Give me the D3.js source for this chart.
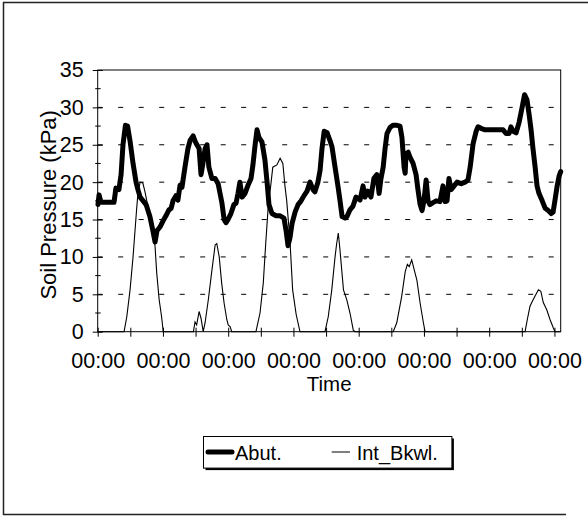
<!DOCTYPE html>
<html><head><meta charset="utf-8">
<script src="https://cdn.jsdelivr.net/npm/d3@7"></script>
<style>body{margin:0;background:#fff}svg{display:block}text{font-family:"Liberation Sans",Arial,sans-serif;fill:#000}</style>
</head><body>
<script>
// Time in hours from start; values in kPa
const abutHours = [0.1,0.5,1.2,6.0,6.7,7.8,8.6,9.3,10.2,11.0,11.9,13.0,14.1,14.8,15.6,16.7,17.8,19.2,20.3,21.1,21.8,22.9,24.0,25.1,26.2,27.0,27.7,28.8,29.5,30.3,31.0,32.1,33.2,34.0,35.1,35.8,36.5,37.3,38.0,38.7,39.5,40.2,40.9,42.0,43.2,44.3,45.0,45.7,46.5,47.2,47.9,49.0,50.1,50.9,51.6,52.3,53.1,54.2,55.3,56.4,57.1,57.9,58.6,59.3,60.4,61.5,62.3,63.0,64.1,65.6,67.1,68.5,69.3,70.0,70.7,71.5,72.6,73.7,74.8,75.9,77.0,78.1,79.2,79.9,81.0,81.8,82.5,83.3,84.4,85.5,86.2,87.3,88.4,89.1,89.9,91.0,91.7,92.8,93.9,95.0,96.5,97.6,98.3,99.4,100.5,101.6,102.7,103.5,104.2,105.0,105.7,106.4,107.5,108.6,110.1,111.2,111.9,112.7,113.1,113.4,114.2,114.9,116.0,117.1,117.8,118.6,119.3,120.0,120.8,121.5,122.2,123.0,124.5,125.9,127.0,127.8,128.5,129.2,130.0,131.1,132.2,133.7,135.1,136.2,137.0,138.1,139.2,139.9,141.0,142.5,144.3,146.5,149.1,150.2,151.3,152.0,152.8,153.9,155.0,156.1,157.0,157.9,158.7,159.4,160.1,160.9,161.6,162.3,163.5,164.6,165.7,166.8,167.5,168.2,169.0,169.7,170.3];
const abutValues = [17.0,18.3,17.3,17.3,19.2,19.0,21,25,27.6,27.5,25.5,22.5,20,19,18,17.5,17,15.4,13.5,12,13.5,14,14.8,15.5,16.3,16.5,17.5,18.2,17.6,19.6,19.3,22,24.5,25.6,26.2,25.5,25,24.5,21,22.5,24.5,25,22,20.5,20.5,19.8,18.5,17.2,15,14.6,15,15.8,17,17.2,18.5,20,18,18.5,19.6,20.5,22.3,25,27,26,25.4,23,20,17,15.8,15.5,15.5,15.2,13.5,11.5,12.5,14.5,16,17,17.5,18.2,18.8,20,19,18.7,20,21.6,24.5,26.8,26.6,25.5,24.7,22,19.4,17.6,15.4,15.2,15.4,16.3,16.8,18,17.6,19.5,18,18.8,18,20.5,21,18.5,20.5,22,24.5,26.5,27.3,27.6,27.6,27.5,26,22,21.2,23.8,24,23.3,22.5,21,19,17,16.2,17.5,20.3,17.5,17,17.2,17.5,17.4,19.5,17.4,17.5,20.5,19,19.5,20,19.8,20,20.3,22,25.2,26.8,27.4,27.2,27,27,27,27,26.5,26.5,27.4,26.8,26.6,28,30,31.7,31,29,27,24.5,22,19.5,18.5,17.5,16.5,16.2,15.8,16,17.6,19.5,20.8,21.4];
const intHours = [0,9.7,10.7,11.9,13.0,14.3,14.8,15.6,16.6,17.4,18.0,19.9,21.1,21.7,22.6,23.5,24.1,35.2,35.8,36.4,37.3,38.0,38.8,39.5,40.7,41.9,43.2,43.8,44.7,45.6,46.5,47.5,48.0,48.7,49.3,58.2,59.7,60.9,61.8,62.8,63.6,64.4,65.9,67.1,68.1,68.9,69.5,70.7,71.7,73.0,74.4,83.6,84.8,86.1,87.3,87.9,88.5,89.1,90.4,91.6,92.8,94.0,94.7,108.7,110.0,111.8,113.1,113.9,114.6,115.5,116.4,117.4,118.6,119.8,120.4,157.2,158.0,159.0,160.2,162.1,163.0,163.9,165.2,166.4,167.6,168.2,170.3];
const intValues = [0,0,2,5.6,10,16.3,18.5,20,19.9,18.7,17.6,14.5,11.4,7.9,4.3,2,0,0,1.3,0.9,2.7,1.8,0,1.2,4.3,7.9,11.6,11.8,10,6.5,3.8,1.6,0.9,0.7,0,0,2.5,6.5,11.8,17.2,19.4,22,22.3,23.2,22.5,19.4,17.6,12.3,5.6,2.3,0,0,2,5.6,10,11.8,13.2,11,5.6,4.3,2.5,0.2,0,0,1.2,4.7,8,9,8.7,9.6,8.3,6.9,3.8,1.2,0,0,1.6,3.4,4.3,5.6,5.4,3.9,2.9,1.6,0.5,0,0];
const yTicks = [0,5,10,15,20,25,30,35];
const xTickLabels = ["00:00","00:00","00:00","00:00","00:00","00:00","00:00","00:00"];
const seriesNames = ["Abut.","Int_Bkwl."];

const W = 588, H = 516;
const L = 97.7, R = 560.7, T = 70, B = 331.7;
const FONT = '"Liberation Sans",Arial,sans-serif';
const svg = d3.select("body").append("svg").attr("width", W).attr("height", H);

// outer frame (top, left, bottom)
const frame = svg.append("g").attr("stroke", "#222").attr("stroke-width", 1.5);
frame.append("line").attr("x1", 3).attr("y1", 2.5).attr("x2", 588).attr("y2", 2.5);
frame.append("line").attr("x1", 3.5).attr("y1", 2).attr("x2", 3.5).attr("y2", 515);
frame.append("line").attr("x1", 3).attr("y1", 514.5).attr("x2", 566).attr("y2", 514.5);

const x = d3.scaleLinear().domain([0, 170.3]).range([L, R]);
const y = d3.scaleLinear().domain([0, 35]).range([B, T]);

// gridlines
svg.append("g").selectAll("line").data(yTicks.filter(v => v > 0 && v < 35)).join("line")
  .attr("x1", L).attr("x2", R).attr("y1", d => y(d)).attr("y2", d => y(d))
  .attr("stroke", "#000").attr("stroke-width", 1).attr("stroke-dasharray", "5,15.5");

// plot frame
svg.append("rect").attr("x", L).attr("y", T).attr("width", R - L).attr("height", B - T)
  .attr("fill", "none").attr("stroke", "#000").attr("stroke-width", 1);

// y axis
const yAxis = d3.axisLeft(y).tickValues(yTicks).tickSize(5).tickPadding(10).tickFormat(d3.format("d"));
const ga = svg.append("g").attr("transform", `translate(${L},0)`).call(yAxis);
ga.select(".domain").remove();
ga.selectAll(".tick line").attr("x2", 5).attr("x1", -5).attr("stroke", "#000");
ga.selectAll("text").attr("font-size", 21.5).attr("font-family", FONT).attr("fill", "#000").attr("x", -14);
// minor y ticks
svg.append("g").selectAll("line").data(d3.range(2.5, 35, 5)).join("line")
  .attr("x1", L - 2.5).attr("x2", L + 3).attr("y1", d => y(d)).attr("y2", d => y(d)).attr("stroke", "#000");

// x axis
const xTicks = d3.range(0, 169, 12);
const xAxis = d3.axisBottom(x).tickValues(xTicks).tickSize(4).tickPadding(0).tickFormat((d) => d % 24 === 0 ? xTickLabels[d / 24] : "");
const gx = svg.append("g").attr("transform", `translate(0,${B})`).call(xAxis);
gx.select(".domain").remove();
gx.selectAll(".tick line").attr("y1", -4).attr("y2", 5).attr("stroke", "#000");
gx.selectAll("text").attr("font-size", 21.5).attr("font-family", FONT).attr("fill", "#000").attr("dy", null).attr("y", 36);

// lines
const lineGen = (hs, vs) => d3.line().x((d, i) => x(hs[i])).y(d => y(d))(vs);
svg.append("path").attr("d", lineGen(intHours, intValues)).attr("fill", "none").attr("stroke", "#000").attr("stroke-width", 1.1);
svg.append("path").attr("d", lineGen(abutHours, abutValues)).attr("fill", "none").attr("stroke", "#000").attr("stroke-width", 5).attr("stroke-linejoin", "round").attr("stroke-linecap", "round");

// axis titles
svg.append("text").attr("x", (L + R) / 2).attr("y", 391).attr("text-anchor", "middle").attr("font-size", 20.5).text("Time");
svg.append("text").attr("transform", `translate(56,${(T + B) / 2 + 4}) rotate(-90)`).attr("text-anchor", "middle").attr("font-size", 22).text("Soil Pressure (kPa)");

// legend
const lg = svg.append("g");
lg.append("rect").attr("x", 205.5).attr("y", 438.5).attr("width", 248.4).attr("height", 31.6).attr("fill", "#000");
lg.append("rect").attr("x", 203.5).attr("y", 436.5).attr("width", 248.4).attr("height", 31.6).attr("fill", "#fff").attr("stroke", "#000").attr("stroke-width", 1);
lg.append("line").attr("x1", 208).attr("x2", 232).attr("y1", 452).attr("y2", 452).attr("stroke", "#000").attr("stroke-width", 5).attr("stroke-linecap", "round");
lg.append("text").attr("x", 235).attr("y", 460).attr("font-size", 20).text(seriesNames[0]);
lg.append("line").attr("x1", 331.7).attr("x2", 350).attr("y1", 452).attr("y2", 452).attr("stroke", "#000").attr("stroke-width", 1);
lg.append("text").attr("x", 356.7).attr("y", 460).attr("font-size", 20).text(seriesNames[1]);
</script>
</body></html>
